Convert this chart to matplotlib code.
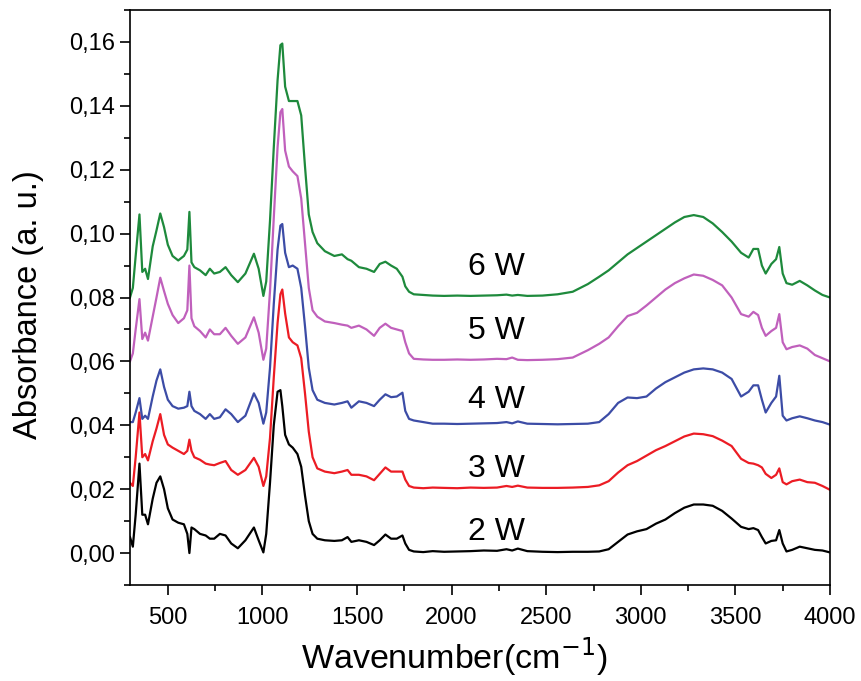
import matplotlib
matplotlib.use("Agg")
import matplotlib.pyplot as plt
from matplotlib.ticker import MultipleLocator, FuncFormatter

plt.rcParams['font.family'] = ['Liberation Sans', 'DejaVu Sans']

# Wavenumber grid (cm^-1)
wavenumber = [
    300, 315, 330, 350, 365, 380, 395, 420, 440, 460,
    480, 500, 525, 555, 585, 603, 614, 625, 640, 670,
    700, 722, 745, 775, 805, 835, 870, 910, 955, 980,
    1005, 1020, 1040, 1060, 1080, 1095, 1105, 1120, 1140, 1160,
    1185, 1205, 1225, 1245, 1265, 1290, 1330, 1380, 1420, 1450,
    1470, 1510, 1550, 1590, 1620, 1650, 1680, 1710, 1740, 1755,
    1775, 1800, 1850, 1900, 1960, 2030, 2100, 2170, 2240, 2290,
    2320, 2350, 2400, 2480, 2560, 2640, 2720, 2780, 2830, 2880,
    2930, 2980, 3030, 3080, 3130, 3180, 3230, 3280, 3330, 3380,
    3430, 3480, 3530, 3570, 3595, 3620, 3640, 3660, 3690, 3715,
    3732, 3750, 3770, 3800, 3840, 3880, 3920, 3960, 4000,
]

abs_2W = [
    0.005, 0.002, 0.012, 0.028, 0.012, 0.012, 0.009, 0.017, 0.022, 0.024,
    0.020, 0.014, 0.0105, 0.0095, 0.009, 0.006, 0.000, 0.008, 0.0075, 0.006,
    0.0055, 0.0045, 0.0045, 0.006, 0.0055, 0.003, 0.0015, 0.004, 0.008, 0.004,
    0.0002, 0.006, 0.022, 0.040, 0.0505, 0.051, 0.046, 0.037, 0.034, 0.033,
    0.031, 0.027, 0.018, 0.010, 0.006, 0.0045, 0.004, 0.0038, 0.004, 0.005,
    0.0035, 0.004, 0.0035, 0.0025, 0.004, 0.0058, 0.0045, 0.0045, 0.0055, 0.003,
    0.001, 0.0005, 0.0003, 0.0006, 0.0004, 0.0005, 0.0006, 0.0008, 0.0007, 0.0012,
    0.0008, 0.0014, 0.0006, 0.0004, 0.0003, 0.0004, 0.0004, 0.0005, 0.0012, 0.0035,
    0.0058, 0.0068, 0.0075, 0.0092, 0.0105, 0.0125, 0.0142, 0.0152, 0.0152, 0.0148,
    0.0132, 0.0108, 0.0082, 0.0075, 0.0078, 0.0072, 0.005, 0.003, 0.0038, 0.004,
    0.0072, 0.003, 0.0005, 0.001, 0.002, 0.0015, 0.001, 0.0008, 0.0002,
]

abs_3W = [
    0.022, 0.021, 0.030, 0.044, 0.030, 0.031, 0.029, 0.035, 0.039, 0.0435,
    0.037, 0.034, 0.033, 0.032, 0.031, 0.032, 0.0355, 0.032, 0.030, 0.0292,
    0.028, 0.0277, 0.0275, 0.0282, 0.0288, 0.026, 0.0245, 0.026, 0.0298, 0.027,
    0.021, 0.024, 0.036, 0.055, 0.072, 0.081, 0.0825, 0.075, 0.0675, 0.066,
    0.065, 0.061, 0.050, 0.038, 0.030, 0.0265, 0.0255, 0.025, 0.0255, 0.026,
    0.0245, 0.0245, 0.024, 0.0228, 0.0248, 0.0268, 0.0255, 0.0255, 0.0255, 0.023,
    0.021, 0.0205, 0.0203, 0.0205, 0.0204, 0.0203, 0.0205, 0.0204, 0.0205, 0.021,
    0.0207, 0.0211, 0.0205, 0.0204, 0.0204, 0.0205, 0.0207, 0.0212, 0.0225, 0.0252,
    0.0275, 0.0288, 0.0305, 0.0322, 0.0335, 0.035, 0.0365, 0.0374, 0.0372, 0.0366,
    0.0352, 0.0335, 0.0295, 0.0282, 0.028, 0.0275, 0.0268, 0.0248, 0.0235, 0.0245,
    0.0265, 0.0222, 0.0215, 0.0225, 0.023, 0.0222, 0.022, 0.021, 0.0198,
]

abs_4W = [
    0.041, 0.041, 0.044, 0.0485, 0.042, 0.043, 0.042, 0.049, 0.054, 0.0575,
    0.052, 0.048, 0.046, 0.0452, 0.0455, 0.046, 0.0505, 0.046, 0.0445, 0.0435,
    0.042, 0.0435, 0.042, 0.0425, 0.045, 0.0435, 0.041, 0.043, 0.050, 0.047,
    0.0405, 0.044, 0.058, 0.078, 0.095, 0.1025, 0.103, 0.094, 0.0895, 0.090,
    0.089, 0.083, 0.071, 0.058, 0.051, 0.048, 0.047, 0.0465, 0.047, 0.0475,
    0.0455, 0.0475, 0.047, 0.046, 0.048, 0.0497, 0.0488, 0.049, 0.0502, 0.0445,
    0.042, 0.0415, 0.041, 0.0405, 0.0405, 0.0404, 0.0405, 0.0406, 0.0407, 0.041,
    0.0406, 0.0412, 0.0405, 0.0404, 0.0403, 0.0404, 0.0405, 0.041, 0.0435, 0.047,
    0.0487, 0.0485, 0.049, 0.0515, 0.0535, 0.055, 0.0565, 0.0575, 0.0578, 0.0575,
    0.0565, 0.0545, 0.049, 0.0505, 0.0525, 0.0525, 0.048, 0.044, 0.047, 0.049,
    0.0555, 0.043, 0.0415, 0.0422, 0.0428, 0.0422, 0.0415, 0.041, 0.0402,
]

abs_5W = [
    0.060, 0.0625, 0.070, 0.0795, 0.067, 0.069, 0.0665, 0.074, 0.080, 0.0862,
    0.082, 0.078, 0.0745, 0.072, 0.0735, 0.076, 0.090, 0.0735, 0.071, 0.0695,
    0.0675, 0.070, 0.0685, 0.0685, 0.0705, 0.068, 0.0655, 0.0675, 0.0738, 0.069,
    0.0605, 0.064, 0.082, 0.105, 0.127, 0.138, 0.139, 0.126, 0.121, 0.1195,
    0.118, 0.111, 0.097, 0.083, 0.076, 0.074, 0.0725, 0.072, 0.0715, 0.0712,
    0.0705, 0.0712, 0.070, 0.068, 0.0705, 0.0718, 0.0705, 0.070, 0.0695, 0.066,
    0.0625, 0.0608, 0.0606, 0.0605, 0.0605, 0.0606, 0.0605, 0.0606, 0.0608, 0.0607,
    0.0612, 0.0605, 0.0604, 0.0605, 0.0607, 0.0612, 0.0635, 0.0655, 0.0675, 0.071,
    0.0742, 0.0752, 0.0775, 0.080, 0.0825, 0.0845, 0.086, 0.0872, 0.0868, 0.0855,
    0.0838, 0.080, 0.0748, 0.074, 0.0755, 0.0745, 0.0705, 0.068, 0.0695, 0.0705,
    0.0748, 0.066, 0.0638, 0.0645, 0.065, 0.064, 0.062, 0.061, 0.060,
]

abs_6W = [
    0.080, 0.083, 0.093, 0.106, 0.088, 0.089, 0.0858, 0.096, 0.101, 0.1063,
    0.102, 0.0965, 0.093, 0.0916, 0.093, 0.095, 0.1068, 0.091, 0.0895, 0.0885,
    0.087, 0.089, 0.0875, 0.088, 0.0895, 0.087, 0.0848, 0.0875, 0.0937, 0.089,
    0.0805, 0.085, 0.104, 0.127, 0.148, 0.159, 0.1595, 0.146, 0.1415, 0.1415,
    0.1415, 0.137, 0.121, 0.106, 0.1005, 0.097, 0.0945, 0.093, 0.0935, 0.092,
    0.0915, 0.0895, 0.089, 0.088, 0.0905, 0.0912, 0.090, 0.089, 0.0865, 0.0835,
    0.0818, 0.081, 0.0808, 0.0806, 0.0805, 0.0806, 0.0805, 0.0806, 0.0807, 0.0809,
    0.0806, 0.0808, 0.0805, 0.0806, 0.081, 0.0818, 0.0842, 0.0865, 0.0885, 0.091,
    0.0935, 0.0955, 0.0975, 0.0995, 0.1015, 0.1035, 0.1052, 0.1058, 0.1052, 0.1032,
    0.1005, 0.0975, 0.094, 0.0925, 0.0952, 0.0952, 0.090, 0.0875, 0.0905, 0.092,
    0.0958, 0.0875, 0.0845, 0.084, 0.0852, 0.0838, 0.0822, 0.0808, 0.080,
]

series_labels = ["2 W", "3 W", "4 W", "5 W", "6 W"]
series_values = [abs_2W, abs_3W, abs_4W, abs_5W, abs_6W]
series_colors = ["#000000", "#ec1c24", "#3c4ca6", "#c060bc", "#1e8a3c"]
label_y = [0.0066, 0.0264, 0.0478, 0.0695, 0.0896]
label_x = 2237

fig = plt.figure(figsize=(8.61, 6.81), dpi=100)
ax = fig.add_axes([130 / 861, 1 - 585 / 681, 700 / 861, 575 / 681])

for vals, col, lab, ly in zip(series_values, series_colors, series_labels, label_y):
    assert len(vals) == len(wavenumber)
    ax.plot(wavenumber, vals, color=col, lw=1.6, solid_joinstyle='round')
    ax.text(label_x, ly, lab, fontsize=23, ha='center', va='center', color='black')

ax.set_xlim(300, 4000)
ax.set_ylim(-0.01, 0.17)

ax.xaxis.set_major_locator(MultipleLocator(500))
ax.xaxis.set_minor_locator(MultipleLocator(250))
ax.yaxis.set_major_locator(MultipleLocator(0.02))
ax.yaxis.set_minor_locator(MultipleLocator(0.01))
ax.yaxis.set_major_formatter(FuncFormatter(lambda v, p: f"{v:.2f}".replace('.', ',')))

ax.tick_params(axis='both', which='major', direction='out', length=7, width=1.2,
               labelsize=17, top=False, right=False)
ax.tick_params(axis='x', which='major', pad=9)
ax.tick_params(axis='both', which='minor', direction='out', length=4, width=1.2,
               top=False, right=False)
for s in ax.spines.values():
    s.set_linewidth(1.2)

ax.set_xlabel("Wavenumber(cm$^{-1}$)", fontsize=24.5, va='center')
ax.xaxis.set_label_coords(0.463, -0.124)
ax.set_ylabel("Absorbance (a. u.)", fontsize=23.5, va='center')
ax.yaxis.set_label_coords(-0.145, 0.487)

fig.savefig("out.png", dpi=100)
